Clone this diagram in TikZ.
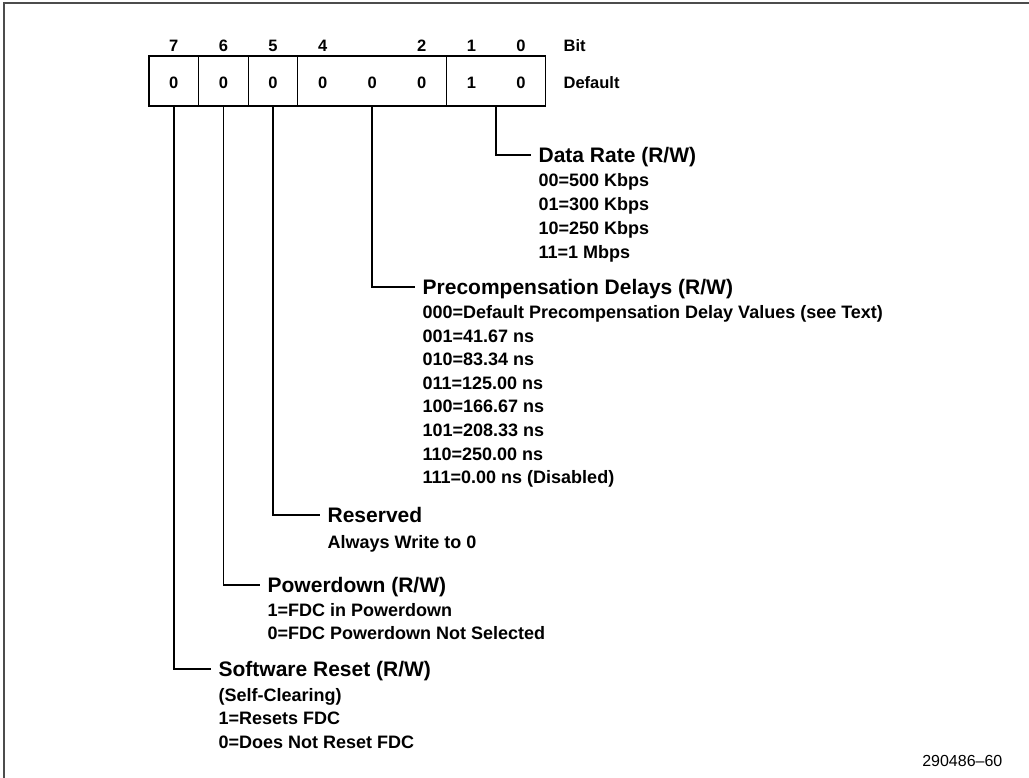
\documentclass[tikz,border=0pt]{standalone}
\usepackage{fontspec}
\setmainfont{Liberation Sans}
\usetikzlibrary{positioning}

\begin{document}
\begin{tikzpicture}[x=1pt, y=-1pt, line width=1.3pt]
  \tikzstyle{field} = [draw, outer sep=0pt, inner sep=0pt, minimum height=50pt]
  \tikzstyle{bitnum} = [anchor=base, inner sep=0pt, font=\fontsize{16.5}{18}\selectfont\bfseries]
  \tikzstyle{head} = [anchor=west, inner xsep=7pt, inner ysep=0pt, text height=15pt, text depth=0pt, font=\fontsize{21}{24}\selectfont\bfseries]
  \tikzstyle{val} = [anchor=base west, inner sep=0pt, font=\fontsize{18}{22}\selectfont\bfseries]
  \tikzstyle{leader} = [line width=1.5pt]

  \useasboundingbox (0,0) rectangle (1029,778);
  \draw[line width=2pt, black!70] (4,778) -- (4,3) -- (1029,3);

  \node[field, minimum width=49.6pt] (g7) at (173.8,81) {};
  \node[field, minimum width=49.6pt, right=0pt of g7] (g6) {};
  \node[field, minimum width=49.6pt, right=0pt of g6] (g5) {};
  \node[field, minimum width=148.8pt, right=0pt of g5] (g42) {};
  \node[field, minimum width=99.2pt, right=0pt of g42] (g10) {};

  \foreach \b/\x in {7/173.8, 6/223.4, 5/273, 4/322.6, 2/421.8, 1/471.4, 0/521}
    \node[bitnum] (n\b) at (\x,52) {\b};
  \node[bitnum, anchor=base west] (bit) at (563,52) {Bit};

  \foreach \b/\x/\v in {7/173.8/0, 6/223.4/0, 5/273/0, 4/322.6/0, 3/372.2/0, 2/421.8/0, 1/471.4/1, 0/521/0}
    \node[bitnum] (v\b) at (\x,89) {\v};
  \node[bitnum, anchor=base west] (dflt) at (563,89) {Default};

  \node[head] (rate) at (531,155) {Data Rate (R/W)};
  \node[head] (prec) at (415,287) {Precompensation Delays (R/W)};
  \node[head] (resv) at (320,515) {Reserved};
  \node[head] (pwr) at (260,585) {Powerdown (R/W)};
  \node[head] (swr) at (211,669) {Software Reset (R/W)};

  \draw[leader] (g10.south) |- (rate.west);
  \draw[leader] (g42.south) |- (prec.west);
  \draw[leader] (g5.south) |- (resv.west);
  \draw[leader] (g6.south) |- (pwr.west);
  \draw[leader] (g7.south) |- (swr.west);

  \foreach \t [count=\i from 0] in {{00=500 Kbps}, {01=300 Kbps}, {10=250 Kbps}, {11=1 Mbps}}
    \node[val] (rate\i) at (538, 187+23.7*\i) {\t};
  \foreach \t [count=\i from 0] in {{000=Default Precompensation Delay Values (see Text)}, {001=41.67 ns}, {010=83.34 ns}, {011=125.00 ns}, {100=166.67 ns}, {101=208.33 ns}, {110=250.00 ns}, {111=0.00 ns (Disabled)}}
    \node[val] (prec\i) at (422, 318.5+23.6*\i) {\t};
  \node[val] (resv0) at (327,548.5) {Always Write to 0};
  \foreach \t [count=\i from 0] in {{1=FDC in Powerdown}, {0=FDC Powerdown Not Selected}}
    \node[val] (pwr\i) at (267, 616.5+23.3*\i) {\t};
  \foreach \t [count=\i from 0] in {{(Self-Clearing)}, {1=Resets FDC}, {0=Does Not Reset FDC}}
    \node[val] (swr\i) at (218, 701.5+23.4*\i) {\t};

  \node[anchor=base east, inner sep=0pt, font=\fontsize{16}{18}\selectfont] (fig) at (1003,766) {290486--60};
\end{tikzpicture}
\end{document}
